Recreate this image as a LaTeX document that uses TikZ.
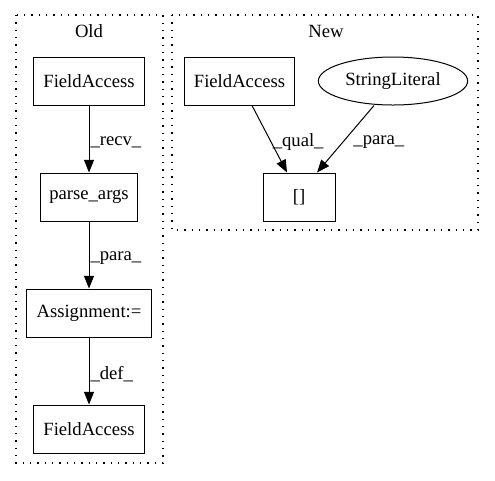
\documentclass[tikz,border=0pt]{standalone}
\usepackage{fontspec}
\setmainfont{Liberation Serif}
\usetikzlibrary{arrows.meta,shapes.geometric}

\tikzset{
  box/.style={draw, line width=0.75pt, rectangle, minimum height=36pt, inner sep=3pt},
  oval/.style={draw, line width=0.75pt, ellipse, minimum width=112pt, minimum height=36pt, inner sep=0pt},
  cluster/.style={draw, line width=1pt, dash pattern=on 1pt off 4.5pt},
  edge/.style={draw, line width=0.75pt, -{Triangle[length=9.5pt,width=7.5pt]}},
  elabel/.style={anchor=west, inner sep=0.75pt}
}

\begin{document}
\begin{tikzpicture}[x=0.75pt,y=0.75pt,yscale=-1,xscale=1,font=\fontsize{14}{16}\selectfont]
        \useasboundingbox (0,0) rectangle (495,480);

        %Clusters
        \draw [cluster] (16,15) rectangle (163,463);
        \draw [cluster] (172,15) rectangle (478,230);
        % Text Node
        \draw (89,31) node [inner sep=0.75pt] (oldlbl) {Old};
        % Text Node
        \draw (326,31) node [inner sep=0.75pt] (newlbl) {New};

        %Old
        \node [box, minimum width=83pt] (fa1) at (89,81) {FieldAccess};
        \node [box, minimum width=73pt] (parse) at (89,197) {parse\_args};
        \node [box, minimum width=94pt] (assign) at (89,313) {Assignment:=};
        \node [box, minimum width=83pt] (fa2) at (89,429) {FieldAccess};

        %New
        \node [box, minimum width=83pt] (fa3) at (239.5,81) {FieldAccess};
        \node [oval] (strlit) at (393,81) {StringLiteral};
        \node [box, minimum width=54pt] (idx) at (299,197) {[]};

        %Edges
        \draw [edge] (fa1) -- (parse) node [elabel, pos=0.55] {\_recv\_};
        \draw [edge] (parse) -- (assign) node [elabel, pos=0.55] {\_para\_};
        \draw [edge] (assign) -- (fa2) node [elabel, pos=0.55] {\_def\_};
        \draw [edge] (fa3.south -| 252,0) -- (idx.north -| 287,0) node [elabel, pos=0.55] {\_qual\_};
        \draw [edge] (strlit.south -| 374,0) -- (idx.north -| 317,0) node [elabel, pos=0.55, xshift=7pt] {\_para\_};

\end{tikzpicture}
\end{document}
